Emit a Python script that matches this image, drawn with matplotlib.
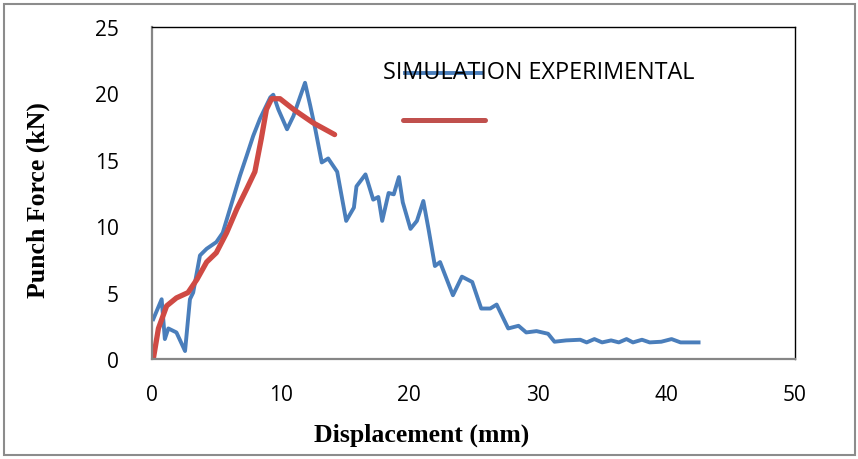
import matplotlib
matplotlib.use("Agg")
import matplotlib.pyplot as plt
from matplotlib.lines import Line2D
from matplotlib.patches import Rectangle

# simulation curve (blue)
sim_x = [0.1, 0.75, 1.0, 1.27, 1.9, 2.57, 2.95, 3.2, 3.73, 4.25, 5.0, 5.5, 6.84, 7.36,
         7.87, 8.4, 9.2, 9.43, 9.82, 10.5, 11.0, 11.5, 11.9, 12.3, 12.7, 13.2, 13.7,
         14.4, 15.1, 15.7, 15.9, 16.6, 17.2, 17.6, 17.9, 18.4, 18.8, 19.2, 19.5, 20.1,
         20.6, 21.1, 21.5, 22.0, 22.4, 23.4, 24.1, 24.9, 25.6, 26.3, 26.8, 27.7, 28.5,
         29.1, 29.9, 30.8, 31.3, 32.2, 33.3, 33.8, 34.4, 35.0, 35.7, 36.3, 36.9, 37.4,
         38.1, 38.7, 39.6, 40.4, 41.1, 42.5]
sim_y = [3.0, 4.5, 1.5, 2.3, 2.0, 0.6, 4.5, 5.0, 7.8, 8.3, 8.8, 9.5, 13.8, 15.3,
         16.8, 18.1, 19.7, 19.9, 18.8, 17.3, 18.3, 19.7, 20.8, 19.1, 17.3, 14.8, 15.1,
         14.1, 10.4, 11.4, 13.0, 13.9, 12.0, 12.2, 10.4, 12.5, 12.4, 13.7, 11.8, 9.8,
         10.4, 11.9, 9.8, 7.0, 7.3, 4.8, 6.2, 5.8, 3.8, 3.8, 4.1, 2.3, 2.5,
         2.0, 2.1, 1.9, 1.3, 1.4, 1.45, 1.25, 1.5, 1.25, 1.4, 1.25, 1.5, 1.25,
         1.45, 1.25, 1.3, 1.5, 1.25, 1.25]

# experimental curve (red)
exp_x = [0.1, 0.5, 1.14, 1.9, 2.8, 3.5, 4.25, 5.0, 5.8, 6.6, 7.36, 8.0, 8.5, 8.9,
         9.3, 9.95, 11.0, 12.5, 14.2]
exp_y = [0.0, 2.3, 4.0, 4.6, 5.0, 6.0, 7.3, 8.0, 9.5, 11.3, 12.8, 14.1, 16.6, 18.8,
         19.6, 19.6, 18.8, 17.8, 16.9]

x_ticks = [0, 10, 20, 30, 40, 50]
y_ticks = [0, 5, 10, 15, 20, 25]

blue = '#4a7ebb'
red = '#cf4a44'

fig = plt.figure(figsize=(8.58, 4.6), dpi=100)
ax = fig.add_axes([152/858, 100/460, 643/858, 332/460])

ax.plot(sim_x, sim_y, color=blue, lw=2.8, solid_joinstyle='round')
ax.plot(exp_x, exp_y, color=red, lw=3.8, solid_joinstyle='round', solid_capstyle='round')

ax.set_xlim(0, 50)
ax.set_ylim(0, 25)
ax.set_xticks(x_ticks)
ax.set_yticks(y_ticks)
ax.tick_params(length=0, labelsize=15)
ax.tick_params(axis='y', pad=24)
ax.tick_params(axis='x', pad=18)
for lab in ax.get_xticklabels() + ax.get_yticklabels():
    lab.set_family('Open Sans')

for s in ['left', 'bottom']:
    ax.spines[s].set_color('#868686')
    ax.spines[s].set_linewidth(1.6)
for s in ['top', 'right']:
    ax.spines[s].set_color('black')
    ax.spines[s].set_linewidth(1.0)

# axis titles
fig.text(422/858, 1 - 435/460, 'Displacement (mm)', family='Liberation Serif',
         weight='bold', fontsize=18.5, ha='center', va='center')
fig.text(38/858, 1 - 200/460, 'Punch Force (kN)', family='Liberation Serif',
         weight='bold', fontsize=18.5, ha='center', va='center', rotation=90)

# legend drawn as in the original
fig.text(383/858, 1 - 73/460, 'SIMULATION EXPERIMENTAL', family='Open Sans',
         fontsize=16.8, ha='left', va='center')
fig.add_artist(Line2D([405/858, 482/858], [1 - 74/460, 1 - 74/460],
                      color=blue, lw=2.8, transform=fig.transFigure))
fig.add_artist(Line2D([403/858, 485/858], [1 - 121/460, 1 - 121/460],
                      color='#c0504d', lw=3.6, transform=fig.transFigure,
                      solid_capstyle='round'))

# outer border
fig.add_artist(Rectangle((4/858, 4/460), 851/858, 451/460, fill=False,
                         edgecolor='#8c8c8c', lw=1.5, transform=fig.transFigure))

fig.savefig('out.png', dpi=100)
